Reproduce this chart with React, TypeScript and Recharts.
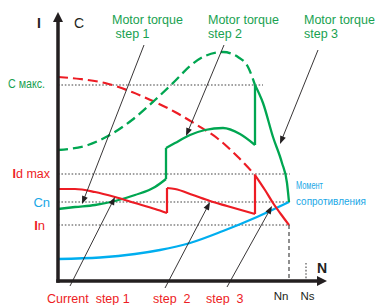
import React from 'react';
import { ComposedChart, Line, XAxis, YAxis, ReferenceLine, ReferenceDot } from 'recharts';

// ---- data (x = speed N, y = torque C / current I, schematic units) ----
const torqueFull = [
  { n: 0, v: 65.5 }, { n: 15, v: 68 }, { n: 25, v: 72.5 }, { n: 37, v: 80.5 },
  { n: 48.5, v: 90.5 }, { n: 58.5, v: 100 }, { n: 66, v: 107.5 }, { n: 73.5, v: 112.5 },
  { n: 82.5, v: 114.5 }, { n: 90, v: 112 }, { n: 95, v: 107 }, { n: 98.5, v: 98 },
];
const currentFull = [
  { n: 0, v: 102 }, { n: 11, v: 101 }, { n: 23.5, v: 99 }, { n: 37, v: 94.5 },
  { n: 48.5, v: 89.5 }, { n: 58.5, v: 84.5 }, { n: 69.5, v: 78 }, { n: 79.5, v: 71.5 },
  { n: 90, v: 62 }, { n: 98.5, v: 53 },
];
const torqueStep1 = [
  { n: 0, v: 36 }, { n: 8.5, v: 37 }, { n: 18.5, v: 38 }, { n: 28.5, v: 40 },
  { n: 38.5, v: 43 }, { n: 48.5, v: 47 }, { n: 54, v: 51 },
];
const torqueStep2 = [
  { n: 54, v: 66.5 }, { n: 58.5, v: 69 }, { n: 66, v: 73 }, { n: 73.5, v: 75.5 },
  { n: 82.5, v: 76.5 }, { n: 91, v: 73.5 }, { n: 98.5, v: 68 },
];
const torqueStep3 = [
  { n: 98.5, v: 98 }, { n: 102.5, v: 89 }, { n: 107.5, v: 72 }, { n: 112, v: 59 },
  { n: 114.5, v: 49 }, { n: 115.5, v: 39.5 },
];
const currentStep1 = [
  { n: 0, v: 46 }, { n: 8.5, v: 46 }, { n: 18.5, v: 44.5 }, { n: 28.5, v: 42 },
  { n: 38.5, v: 39 }, { n: 48.5, v: 36 }, { n: 54.5, v: 34 },
];
const currentStep2 = [
  { n: 54.5, v: 46.5 }, { n: 58.5, v: 46 }, { n: 67.5, v: 43 }, { n: 76, v: 40 },
  { n: 84.5, v: 37.5 }, { n: 98.5, v: 33.5 },
];
const currentStep3 = [
  { n: 98.5, v: 53 }, { n: 103.5, v: 45.5 }, { n: 107.5, v: 39 }, { n: 112.5, v: 32 },
  { n: 115.5, v: 28 },
];
const resistTorque = [
  { n: 0, v: 11 }, { n: 21, v: 11.75 }, { n: 38.5, v: 13.5 }, { n: 51, v: 15.5 },
  { n: 66, v: 19 }, { n: 82.5, v: 25 }, { n: 99.5, v: 32 }, { n: 115.5, v: 39.5 },
];

// levels & tick labels
const cMax = 98, idMax = 53.5, cN = 39.5, iN = 28;
const nN = 115.5, nS = 124;
const yTicks = [cMax, idMax, cN, iN];
const yTickLabels = ['C макс.', 'Id max', 'Cn', 'In'];
const xTicks = [nN, nS];
const xTickLabels = ['Nn', 'Ns'];
const torqueStepLabels = ['step 1', 'step 2', 'step 3'];
const currentStepLabels = ['Current  step 1', 'step  2', 'step  3'];
const resistLabel = ['Момент', 'сопротивления'];

// ---- styling / layout ----
const GREEN = '#00a651';
const GREEN_T = '#18a150';
const RED = '#ed1c24';
const BLUE = '#00aeef';
const BLUE_T = '#1aa7e6';
const INK = '#231f20';
const FONT = '"Liberation Sans", Arial, sans-serif';

const X_DOMAIN = [0, 140];
const Y_DOMAIN = [0, 135];

const yTickStyle = [
  { color: GREEN_T, dx: -13, dy: 3, len: 37, size: 13.5, boldI: false },
  { color: RED, dx: -8, dy: 3.5, len: 0, size: 12.5, boldI: true },
  { color: BLUE_T, dx: -8, dy: 4.5, len: 0, size: 13, boldI: false },
  { color: RED, dx: -13, dy: 4.5, len: 0, size: 13, boldI: true },
];
const xTickStyle = [{ dx: -8 }, { dx: 1.5 }];

function makeArrow(stroke: string, width: number, head: number, headW: number, cap = 'butt') {
  return (p: any) => {
    const { x1, y1, x2, y2 } = p;
    const dx = x2 - x1;
    const dy = y2 - y1;
    const L = Math.hypot(dx, dy) || 1;
    const ux = dx / L;
    const uy = dy / L;
    const bx = x2 - ux * head;
    const by = y2 - uy * head;
    const nx = (-uy * headW) / 2;
    const ny = (ux * headW) / 2;
    return (
      <g>
        <line x1={x1} y1={y1} x2={bx + ux} y2={by + uy} stroke={stroke} strokeWidth={width} strokeLinecap={cap as any} />
        <polygon points={`${x2},${y2} ${bx + nx},${by + ny} ${bx - nx},${by - ny}`} fill={stroke} />
      </g>
    );
  };
}

const axisArrow = makeArrow(INK, 3.5, 10, 10, 'square');
const pointerArrow = makeArrow(INK, 0.9, 8, 6);

const pointers = [
  { from: { x: 43, y: 118 }, to: { x: 12, y: 38.5 } },
  { from: { x: 83, y: 118 }, to: { x: 64, y: 72.5 } },
  { from: { x: 130, y: 115.5 }, to: { x: 111, y: 68.5 } },
  { from: { x: 6, y: -2.5 }, to: { x: 28.5, y: 42 } },
  { from: { x: 53.5, y: -3.5 }, to: { x: 76, y: 39.5 } },
  { from: { x: 84.5, y: -3 }, to: { x: 107, y: 37.5 } },
];

type Lbl = { text: string; x: number; y: number; color: string; size: number; weight?: number; len?: number };
const labels: Lbl[] = [
  { text: 'I', x: -10.5, y: 126.5, color: INK, size: 14, weight: 700 },
  { text: 'C', x: 8, y: 126.5, color: INK, size: 14 },
  { text: 'N', x: 129.5, y: 4, color: INK, size: 14, weight: 700 },
  { text: 'Motor torque', x: 27, y: 128.5, color: GREEN_T, size: 12.5 },
  { text: ' ' + torqueStepLabels[0], x: 27, y: 121.5, color: GREEN_T, size: 12.5 },
  { text: 'Motor torque', x: 75, y: 128.5, color: GREEN_T, size: 12.5 },
  { text: torqueStepLabels[1], x: 75, y: 121.5, color: GREEN_T, size: 12.5 },
  { text: 'Motor torque', x: 123, y: 128.5, color: GREEN_T, size: 12.5 },
  { text: torqueStepLabels[2], x: 123, y: 121.5, color: GREEN_T, size: 12.5 },
  { text: currentStepLabels[0], x: -5.5, y: -11, color: RED, size: 12.5 },
  { text: currentStepLabels[1], x: 47.5, y: -11, color: RED, size: 12.5 },
  { text: currentStepLabels[2], x: 74, y: -11, color: RED, size: 12.5 },
  { text: resistLabel[0], x: 119, y: 46, color: BLUE_T, size: 11.2, len: 27 },
  { text: resistLabel[1], x: 119, y: 38, color: BLUE_T, size: 11.2, len: 70 },
];

const textShape = (l: Lbl) => (p: any) => (
  <text
    x={p.cx}
    y={p.cy}
    fill={l.color}
    fontSize={l.size}
    fontWeight={l.weight || 400}
    fontFamily={FONT}
    style={{ whiteSpace: 'pre' }}
    {...(l.len ? { textLength: l.len, lengthAdjust: 'spacingAndGlyphs' } : {})}
  >
    {l.text}
  </text>
);

const renderYTick = (p: any) => {
  const i = yTicks.indexOf(p.payload.value);
  if (i < 0) return <g />;
  const s = yTickStyle[i];
  const label = yTickLabels[i];
  return (
    <text
      x={p.x + s.dx}
      y={p.y + s.dy}
      textAnchor="end"
      fill={s.color}
      fontSize={s.size}
      fontFamily={FONT}
      {...(s.len ? { textLength: s.len, lengthAdjust: 'spacingAndGlyphs' } : {})}
    >
      {s.boldI ? (
        <>
          <tspan fontWeight={700}>{label.slice(0, 1)}</tspan>
          <tspan>{label.slice(1)}</tspan>
        </>
      ) : (
        label
      )}
    </text>
  );
};

const renderXTick = (p: any) => {
  const i = xTicks.indexOf(p.payload.value);
  if (i < 0) return <g />;
  return (
    <text x={p.x + xTickStyle[i].dx} y={p.y + 19} textAnchor="middle" fill={INK} fontSize={11.5} fontFamily={FONT}>
      {xTickLabels[i]}
    </text>
  );
};

const joins = (a: { n: number; v: number }[], b: { n: number; v: number }[]) => [a[a.length - 1], b[0]];

export default function App() {
  const lineCommon = { dataKey: 'v', dot: false, activeDot: false, isAnimationActive: false } as const;
  return (
    <div style={{ position: 'absolute', left: 0, top: 0, width: 377, height: 305, background: '#fff' }}>
      <ComposedChart width={377} height={305} margin={{ top: 11, right: 39, bottom: 0, left: 0 }}>
        <XAxis
          type="number"
          dataKey="n"
          domain={X_DOMAIN}
          ticks={xTicks}
          interval={0}
          axisLine={false}
          tickLine={false}
          tickSize={0}
          tickMargin={0}
          height={24}
          tick={renderXTick}
        />
        <YAxis
          type="number"
          domain={Y_DOMAIN}
          ticks={yTicks}
          interval={0}
          axisLine={false}
          tickLine={false}
          tickSize={0}
          tickMargin={0}
          width={58}
          tick={renderYTick}
        />

        {/* dotted level lines */}
        <ReferenceLine segment={[{ x: 0, y: cMax }, { x: 102.5, y: cMax }]} stroke="#444" strokeWidth={1.1} strokeDasharray="1.6 1.8" ifOverflow="visible" />
        <ReferenceLine segment={[{ x: 0, y: idMax }, { x: nN + 0.5, y: idMax }]} stroke="#444" strokeWidth={1.1} strokeDasharray="1.6 1.8" ifOverflow="visible" />
        <ReferenceLine segment={[{ x: 0, y: cN }, { x: nN + 0.5, y: cN }]} stroke="#444" strokeWidth={1.1} strokeDasharray="1.6 1.8" ifOverflow="visible" />
        <ReferenceLine segment={[{ x: 0, y: iN }, { x: nN + 0.5, y: iN }]} stroke="#444" strokeWidth={1.1} strokeDasharray="1.6 1.8" ifOverflow="visible" />
        <ReferenceLine segment={[{ x: nN, y: iN }, { x: nN, y: 0 }]} stroke="#333" strokeWidth={1.1} strokeDasharray="4 3" ifOverflow="visible" />
        <ReferenceLine segment={[{ x: nS, y: 9 }, { x: nS, y: 0 }]} stroke="#444" strokeWidth={1.1} strokeDasharray="1.6 1.8" ifOverflow="visible" />

        {/* curves */}
        <Line {...lineCommon} data={resistTorque} type="monotone" stroke={BLUE} strokeWidth={2.3} />
        <Line {...lineCommon} data={currentFull} type="monotone" stroke={RED} strokeWidth={2.2} strokeDasharray="10 5" />
        <Line {...lineCommon} data={torqueFull} type="monotone" stroke={GREEN} strokeWidth={2.3} strokeDasharray="10 5" />

        <Line {...lineCommon} data={torqueStep1} type="monotone" stroke={GREEN} strokeWidth={2.3} />
        <Line {...lineCommon} data={joins(torqueStep1, torqueStep2)} type="linear" stroke={GREEN} strokeWidth={2.3} />
        <Line {...lineCommon} data={torqueStep2} type="monotone" stroke={GREEN} strokeWidth={2.3} />
        <Line {...lineCommon} data={joins(torqueStep2, torqueStep3)} type="linear" stroke={GREEN} strokeWidth={2.3} />
        <Line {...lineCommon} data={torqueStep3} type="monotone" stroke={GREEN} strokeWidth={2.3} />

        <Line {...lineCommon} data={currentStep1} type="monotone" stroke={RED} strokeWidth={2.2} />
        <Line {...lineCommon} data={joins(currentStep1, currentStep2)} type="linear" stroke={RED} strokeWidth={2.2} />
        <Line {...lineCommon} data={currentStep2} type="monotone" stroke={RED} strokeWidth={2.2} />
        <Line {...lineCommon} data={joins(currentStep2, currentStep3)} type="linear" stroke={RED} strokeWidth={2.2} />
        <Line {...lineCommon} data={currentStep3} type="monotone" stroke={RED} strokeWidth={2.2} />

        {/* axes with arrow heads */}
        <ReferenceLine segment={[{ x: 0, y: 0 }, { x: 0, y: 134.5 }]} shape={axisArrow} ifOverflow="visible" />
        <ReferenceLine segment={[{ x: 0, y: 0 }, { x: 134.5, y: 0 }]} shape={axisArrow} ifOverflow="visible" />

        {/* pointer arrows */}
        {pointers.map((a, i) => (
          <ReferenceLine key={`ptr-${i}`} segment={[a.from, a.to]} shape={pointerArrow} ifOverflow="visible" />
        ))}

        {/* annotation texts */}
        {labels.map((l, i) => (
          <ReferenceDot key={`lbl-${i}`} x={l.x} y={l.y} r={0} ifOverflow="visible" shape={textShape(l)} />
        ))}
      </ComposedChart>
    </div>
  );
}
